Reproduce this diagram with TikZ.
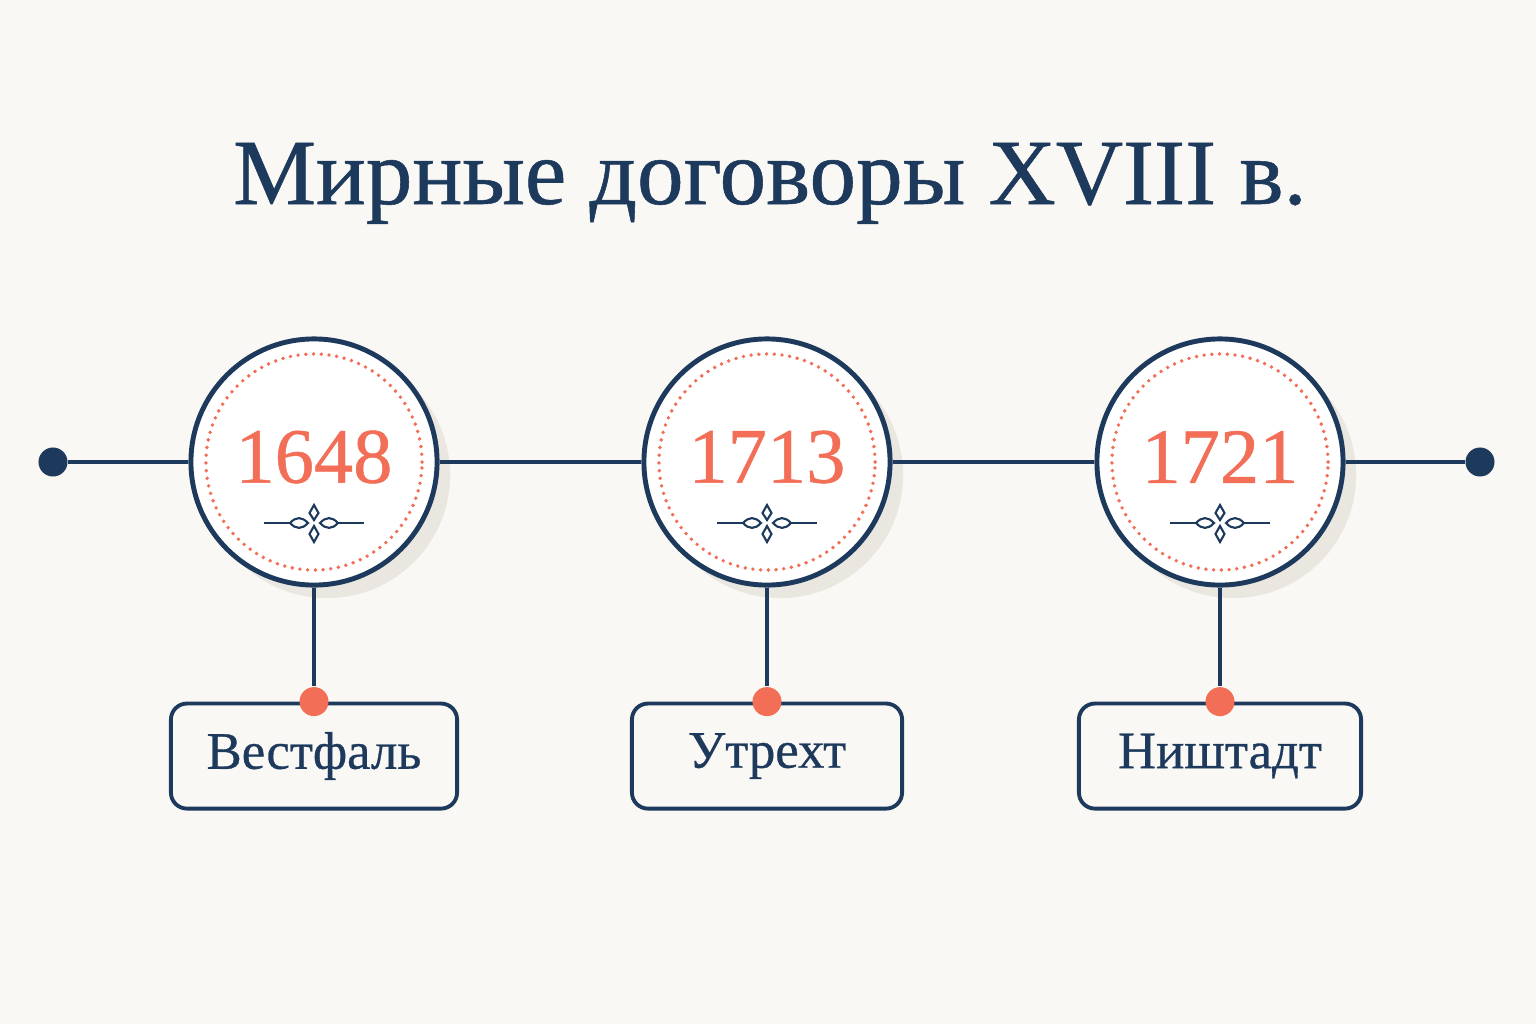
\documentclass[tikz,border=0pt]{standalone}
\usepackage{fontspec}
\setmainfont{Liberation Serif}[FakeBold=0.6]
\usetikzlibrary{positioning,shadows}
\definecolor{palNavy}{HTML}{1D3A5C}
\definecolor{palCoral}{HTML}{F26E57}
\definecolor{palPaper}{HTML}{FAF8F5}
\definecolor{palShadow}{HTML}{EAE6E0}
\tikzset{
  titletext/.style={font=\fontsize{26.5}{30}\selectfont, text=palNavy},
  yearcircle/.style={circle, draw=palNavy, line width=1.4pt, fill=white,
                     minimum size=2.46cm, inner sep=0pt,
                     drop shadow={shadow xshift=0.13cm, shadow yshift=-0.13cm,
                                  fill=palShadow, opacity=1}},
  yeartext/.style={font=\fontsize{22.3}{26}\selectfont, text=palCoral},
  placebox/.style={draw=palNavy, rounded corners=0.16cm, line width=1.1pt,
                   fill=palPaper, minimum height=1.05cm,
                   font=\fontsize{15}{18}\selectfont, text=palNavy},
  enddot/.style={circle, fill=palNavy, minimum size=0.29cm, inner sep=0pt},
  pindot/.style={circle, fill=palCoral, minimum size=0.29cm, inner sep=0pt},
  axisline/.style={palNavy, line width=1.3pt},
  stemline/.style={palNavy, line width=1.1pt},
  ringdots/.style={palCoral, line width=1.1pt, line cap=round,
                   dash pattern=on 0pt off 2.2pt},
  ornament/.pic={
    \draw[palNavy, line width=0.6pt] (-50,0) -- (-24,0) (24,0) -- (50,0);
    \draw[palNavy, line width=0.6pt]
      (-24,0) .. controls (-18,-6.5) and (-12,-6.5) .. (-6,0)
              .. controls (-12,6.5) and (-18,6.5) .. (-24,0);
    \draw[palNavy, line width=0.6pt]
      (24,0) .. controls (18,-6.5) and (12,-6.5) .. (6,0)
             .. controls (12,6.5) and (18,6.5) .. (24,0);
    \draw[palNavy, line width=0.6pt]
      (0,-3) -- (4.5,-10) -- (0,-18) -- (-4.5,-10) -- cycle;
    \draw[palNavy, line width=0.6pt]
      (0,3) -- (4.5,11) -- (0,19) -- (-4.5,11) -- cycle;
  },
}

\begin{document}
\begin{tikzpicture}[x=0.01cm, y=-0.01cm]
\useasboundingbox (0,0) rectangle (1536,1024);
\fill[palPaper] (0,0) rectangle (1536,1024);
%% Title
\node[titletext, anchor=base] (title) at (770,204) {Мирные договоры XVIII в.};
%% Year circles
\node[yearcircle] (c1) at (314,462) {};
\node[yearcircle] (c2) at (767,462) {};
\node[yearcircle] (c3) at (1220,462) {};
\draw[ringdots] (c1) circle[radius=1.08cm];
\draw[ringdots] (c2) circle[radius=1.08cm];
\draw[ringdots] (c3) circle[radius=1.08cm];
\node[yeartext] (y1) at ([yshift=0.05cm]c1) {1648};
\node[yeartext] (y2) at ([yshift=0.05cm]c2) {1713};
\node[yeartext] (y3) at ([yshift=0.05cm]c3) {1721};
\pic at (314,523) {ornament};
\pic at (767,523) {ornament};
\pic at (1220,523) {ornament};
%% Timeline
\node[enddot] (eL) at (53,462) {};
\node[enddot] (eR) at (1480,462) {};
\draw[axisline] (eL) -- (c1) (c1) -- (c2) (c2) -- (c3) (c3) -- (eR);
%% Places
\node[placebox, minimum width=2.86cm, below=1.14cm of c1] (b1) {Вестфаль};
\node[placebox, minimum width=2.70cm, below=1.14cm of c2] (b2) {Утрехт};
\node[placebox, minimum width=2.82cm, below=1.14cm of c3] (b3) {Ништадт};
\node[pindot] (p1) at (b1.north) {};
\node[pindot] (p2) at (b2.north) {};
\node[pindot] (p3) at (b3.north) {};
\draw[stemline] (c1) -- (p1);
\draw[stemline] (c2) -- (p2);
\draw[stemline] (c3) -- (p3);
\end{tikzpicture}
\end{document}
